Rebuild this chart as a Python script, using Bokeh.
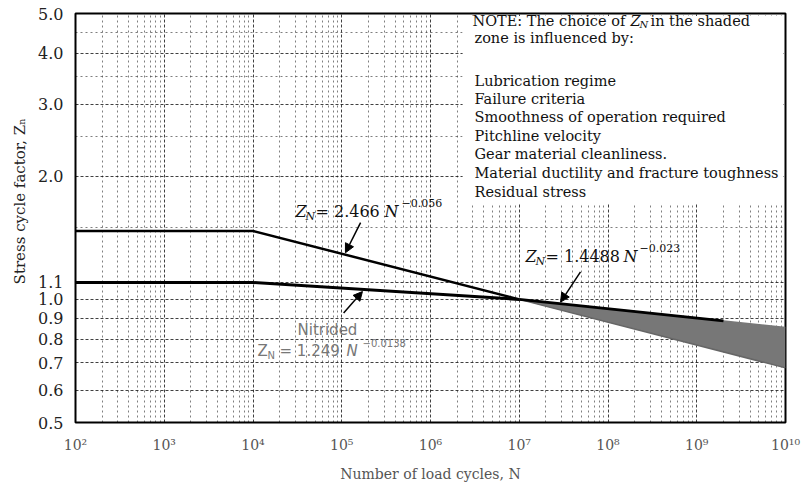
import math
from bokeh.plotting import figure
from bokeh.models import (FixedTicker, Label, Arrow, NormalHead, BoxAnnotation,
                          CustomJSTickFormatter)
from bokeh.embed import file_html
from bokeh.resources import INLINE

# ---------------- data ----------------
X_TICKS = [1e2, 1e3, 1e4, 1e5, 1e6, 1e7, 1e8, 1e9, 1e10]
X_TICK_LABELS = ["10²", "10³", "10⁴", "10⁵", "10⁶", "10⁷", "10⁸", "10⁹", "10¹⁰"]
Y_TICKS = [0.5, 0.6, 0.7, 0.8, 0.9, 1.0, 1.1, 2.0, 3.0, 4.0, 5.0]
Y_TICK_LABELS = ["0.5", "0.6", "0.7", "0.8", "0.9", "1.0", "1.1", "2.0", "3.0", "4.0", "5.0"]
Y_MINOR = [1.5, 2.5, 3.5, 4.5]

UPPER_N = [1e2, 1e4, 1e7]          # Z_N = 2.466 N^-0.056 (flat below 1e4)
UPPER_Z = [1.47, 1.47, 1.0]
NITRIDED_N = [1e2, 1e4, 1e7]       # Z_N = 1.249 N^-0.0138 (flat below 1e4)
NITRIDED_Z = [1.1, 1.1, 1.0]
ZONE_N = [1e7, 1e10]               # shaded zone
ZONE_LOW = [1.0, 0.68]
ZONE_HIGH = [1.0, 0.853]
BOUND_N = [1e7, 2e9]               # Z_N = 1.4488 N^-0.023 (dark part)
BOUND_Z = [1.0, 0.886]

NOTE_LINES = ["zone is influenced by:", "Lubrication regime", "Failure criteria",
              "Smoothness of operation required", "Pitchline velocity",
              "Gear material cleanliness.", "Material ductility and fracture toughness",
              "Residual stress"]
NOTE_Y = [37, 80, 98, 116, 135, 153, 172, 191]

X_MINOR = [k * 10 ** d for d in range(2, 10) for k in range(2, 10)]

# ---------------- layout ----------------
FL, FR, FT, FB = 75, 785, 13, 422
W, H = 804, 484

p = figure(width=W, height=H, x_axis_type="log", y_axis_type="log",
           x_range=(1e2, 1e10), y_range=(0.5, 5.0),
           output_backend="svg", toolbar_location=None,
           min_border_left=FL, min_border_right=W - FR,
           min_border_top=FT, min_border_bottom=H - FB)
p.background_fill_color = "white"
p.border_fill_color = "white"
p.outline_line_color = "black"
p.outline_line_width = 2

fmt_code = """
const i = tv.findIndex(t => Math.abs(Math.log10(t) - Math.log10(tick)) < 1e-6);
return i >= 0 ? lb[i] : "";
"""
p.xaxis.ticker = FixedTicker(ticks=X_TICKS, minor_ticks=X_MINOR)
p.xaxis.formatter = CustomJSTickFormatter(args=dict(tv=X_TICKS, lb=X_TICK_LABELS), code=fmt_code)
p.yaxis.ticker = FixedTicker(ticks=Y_TICKS, minor_ticks=Y_MINOR)
p.yaxis.formatter = CustomJSTickFormatter(args=dict(tv=Y_TICKS, lb=Y_TICK_LABELS), code=fmt_code)

for ax in (p.xaxis, p.yaxis):
    ax.axis_line_color = None
    ax.major_tick_line_color = None
    ax.minor_tick_line_color = None
    ax.major_label_text_font = "DejaVu Serif"
    ax.axis_label_text_font = "DejaVu Serif"
    ax.axis_label_text_font_style = "normal"
    ax.axis_label_text_font_size = "14px"
p.yaxis.major_label_text_font_size = "16px"
p.yaxis.major_label_text_color = "#222"
p.yaxis.major_label_standoff = 6
p.yaxis.axis_label = "\u00a0" * 7 + "Stress cycle factor, Z\u2099"
p.yaxis.axis_label_text_color = "#222"
p.yaxis.axis_label_text_font_size = "15px"
p.yaxis.axis_label_standoff = 6
p.xaxis.major_label_text_font_size = "14px"
p.xaxis.major_label_text_color = "#555"
p.xaxis.major_label_standoff = 8
p.xaxis.axis_label = "Number of load cycles, N"
p.xaxis.axis_label_text_color = "#555"
p.xaxis.axis_label_standoff = 10

for g in (p.xgrid, p.ygrid):
    g.grid_line_color = "black"
    g.grid_line_alpha = 0.75
    g.grid_line_dash = "3 2"
    g.grid_line_width = 1
    g.minor_grid_line_color = "black"
    g.minor_grid_line_alpha = 0.5
    g.minor_grid_line_dash = "2 3"
    g.minor_grid_line_width = 1

# ---------------- glyphs ----------------
p.varea(x=ZONE_N, y1=ZONE_LOW, y2=ZONE_HIGH, fill_color="#777777", fill_alpha=1)
p.line(ZONE_N, ZONE_LOW, line_color="#666666", line_width=1.5)
p.line(ZONE_N, ZONE_HIGH, line_color="#777777", line_width=1.5)
p.line(UPPER_N, UPPER_Z, line_color="black", line_width=2.5)
p.line(NITRIDED_N, NITRIDED_Z, line_color="black", line_width=3)
p.line(BOUND_N, BOUND_Z, line_color="black", line_width=3)

# white panel behind the note
p.add_layout(BoxAnnotation(left=2.3e6, right=9.4e9, top=4.93, bottom=1.71,
                           fill_color="white", fill_alpha=1, line_color=None))

# ---------------- text helpers ----------------
def lab(text, px, py, size=15, color="#111", style="normal", font="DejaVu Serif",
        align="left", angle=0.0, baseline="middle"):
    p.add_layout(Label(x=px - FL, y=FB - py, x_units="screen", y_units="screen",
                       text=text, text_font=font, text_font_size=f"{size}px",
                       text_color=color, text_font_style=style, text_align=align,
                       text_baseline=baseline, angle=angle))

# note
NS = 14.5
lab("NOTE:  The choice of", 472, 20, size=NS)
lab("Z", 630, 20, size=NS, style="italic")
lab("N", 639, 24, size=10, style="italic")
lab("in the shaded", 650, 20, size=NS)
for t, y in zip(NOTE_LINES, NOTE_Y):
    lab(t, 474, y, size=NS)

# formula 1
lab("Z", 295, 211, size=16, style="italic")
lab("N", 305, 216, size=11, style="italic")
lab("= 2.466", 315, 211, size=16)
lab("N", 384, 211, size=16, style="italic")
lab("−0.056", 401, 202, size=11)

# formula 2
lab("Z", 525, 256, size=16, style="italic")
lab("N", 535, 261, size=11, style="italic")
lab("= 1.4488", 545, 256, size=16)
lab("N", 623, 256, size=16, style="italic")
lab("−0.023", 639, 247, size=11)

# formula 3 (nitrided)
GR = "#777777"
lab("Nitrided", 297, 329, size=15, color=GR, font="DejaVu Sans")
lab("Z", 257, 350, size=15, color=GR, font="DejaVu Sans")
lab("N", 267, 355, size=10, color=GR, font="DejaVu Sans")
lab("= 1.249", 279, 350, size=15, color=GR, font="DejaVu Sans")
lab("N", 346, 350, size=15, color=GR, font="DejaVu Sans", style="italic")
lab("−0.0138", 362, 342, size=10, color=GR, font="DejaVu Sans")

# arrows
head = dict(size=9, fill_color="black", line_color="black")
p.add_layout(Arrow(end=NormalHead(**head), x_start=1.63e5, y_start=1.54,
                   x_end=1.10e5, y_end=1.30, line_width=1.5))
p.add_layout(Arrow(end=NormalHead(**head), x_start=4.9e7, y_start=1.168,
                   x_end=2.92e7, y_end=0.985, line_width=1.5))
p.add_layout(Arrow(end=NormalHead(**head), x_start=1.05e5, y_start=0.926,
                   x_end=1.71e5, y_end=1.045, line_width=1.5))

open("out.html", "w").write(file_html(p, INLINE))
